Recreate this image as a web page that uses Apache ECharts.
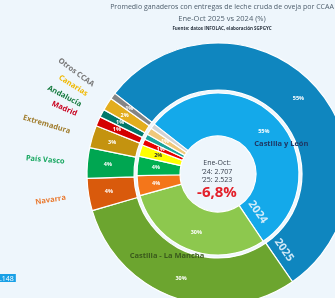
<!DOCTYPE html>
<html>
<head>
<meta charset="utf-8">
<script src="https://cdn.jsdelivr.net/npm/echarts@6/dist/echarts.min.js"></script>
<style>
  html, body { margin: 0; padding: 0; background: #eef6fc; }
  #main { width: 335px; height: 298px; }
</style>
</head>
<body>
<div id="main"></div>
<script>
  // datos (promedio de ganaderos por CCAA)
  var categories = ['Castilla y León', 'Castilla - La Mancha', 'Navarra', 'País Vasco', 'Extremadura', 'Madrid', 'Andalucía', 'Canarias', 'Otros CCAA'];
  var values2025 = [1383, 760, 100, 95, 70, 30, 25, 40, 20];
  var values2024 = [1490, 815, 108, 104, 62, 33, 30, 38, 27];

  var colors2025 = ['#0f86bf', '#6ca52f', '#d95a0c', '#00a651', '#c4930f', '#d40000', '#00786a', '#e3ad1d', '#858585'];
  var colors2024 = ['#14a9ea', '#8dc84e', '#f4761a', '#00b050', '#ffff00', '#e80000', '#1aa39b', '#f0c87a', '#d3d3d3'];
  var nameColors = ['#1f3864', '#3a5a1c', '#e97b32', '#1aa862', '#a07d2e', '#c8001e', '#157a3e', '#f0b800', '#777777'];

  var cx = 218, cy = 174;
  var startAngle = 142;
  var font = 'Open Sans';

  function sum(arr) {
    var s = 0;
    for (var i = 0; i < arr.length; i++) s += arr[i];
    return s;
  }
  var total2025 = sum(values2025);
  var total2024 = sum(values2024);

  function fmtThousands(n) {
    return String(n).replace(/\B(?=(\d{3})+(?!\d))/g, '.');
  }
  var change = (total2025 - total2024) / total2024 * 100;
  var changeText = change.toFixed(1).replace('.', ',') + '%';

  function pct(total) {
    return function (p) {
      return Math.round(p.value / total * 100) + '%';
    };
  }

  // angulo del limite Castilla y Leon / Castilla - La Mancha (desde arriba, horario)
  var theta = (90 - startAngle + 360 * values2025[0] / total2025) * Math.PI / 180;
  var dirX = Math.sin(theta), dirY = -Math.cos(theta);
  var perpX = -Math.cos(theta), perpY = -Math.sin(theta);
  var rot = -Math.atan2(dirY, dirX);
  function along(d, off) {
    return [cx + dirX * d + perpX * off, cy + dirY * d + perpY * off];
  }
  var p24 = along(54, 11);
  var p25 = along(100, 11);

  var myChart = echarts.init(document.getElementById('main'));

  myChart.setOption({
    backgroundColor: '#eef6fc',
    animation: false,
    graphic: [
      { type: 'text', x: 222, y: 7, style: { text: 'Promedio ganaderos con entregas de leche cruda de oveja por CCAA', font: '7px "' + font + '"', fill: '#50606e', align: 'center', verticalAlign: 'middle' } },
      { type: 'text', x: 222, y: 19, style: { text: 'Ene-Oct 2025 vs 2024 (%)', font: '7.5px "' + font + '"', fill: '#50606e', align: 'center', verticalAlign: 'middle' } },
      { type: 'text', x: 222, y: 28.5, style: { text: 'Fuente: datos INFOLAC, elaboración SGPGYC', font: 'bold 4.5px "' + font + '"', fill: '#2a3440', align: 'center', verticalAlign: 'middle' } },
      { type: 'text', x: 217, y: 163, style: { text: 'Ene-Oct:', font: '7px "' + font + '"', fill: '#38404e', align: 'center', verticalAlign: 'middle' } },
      { type: 'text', x: 217, y: 172, style: { text: '‘24: ' + fmtThousands(total2024), font: '7px "' + font + '"', fill: '#38404e', align: 'center', verticalAlign: 'middle' } },
      { type: 'text', x: 217, y: 180, style: { text: '‘25: ' + fmtThousands(total2025), font: '7px "' + font + '"', fill: '#38404e', align: 'center', verticalAlign: 'middle' } },
      { type: 'text', x: 217, y: 193, style: { text: changeText, font: 'bold 15px "' + font + '"', fill: '#e3202a', align: 'center', verticalAlign: 'middle' } },
      { type: 'text', x: p24[0], y: p24[1], rotation: rot, z: 10, style: { text: '2024', font: 'bold 11px "' + font + '"', fill: '#d3ecf9', align: 'center', verticalAlign: 'middle' } },
      { type: 'text', x: p25[0], y: p25[1], rotation: rot, z: 10, style: { text: '2025', font: 'bold 11px "' + font + '"', fill: '#cfe8f6', align: 'center', verticalAlign: 'middle' } },
      { type: 'text', x: 0, y: 274, style: { text: '.148', font: '7px "' + font + '"', fill: '#ffffff', backgroundColor: '#19a0e6', padding: [1, 2, 0, 0], verticalAlign: 'top' } }
    ],
    series: [
      {
        name: '2024',
        type: 'pie',
        center: [cx, cy],
        radius: [38, 81],
        startAngle: startAngle,
        clockwise: true,
        avoidLabelOverlap: false,
        itemStyle: { borderColor: '#ffffff', borderWidth: 1.2 },
        label: {
          position: 'inside',
          formatter: pct(total2024),
          color: '#ffffff',
          fontSize: 5.5,
          fontWeight: 'bold',
          fontFamily: font
        },
        labelLine: { show: false },
        data: categories.map(function (c, i) {
          var item = { name: c, value: values2024[i], itemStyle: { color: colors2024[i] } };
          if (i === 4) item.label = { color: '#333333' };
          return item;
        })
      },
      {
        name: '2025',
        type: 'pie',
        center: [cx, cy],
        radius: [84, 131],
        startAngle: startAngle,
        clockwise: true,
        avoidLabelOverlap: false,
        itemStyle: { borderColor: '#ffffff', borderWidth: 1.2 },
        label: {
          position: 'inside',
          formatter: pct(total2025),
          color: '#ffffff',
          fontSize: 5.5,
          fontWeight: 'bold',
          fontFamily: font
        },
        labelLine: { show: false },
        data: categories.map(function (c, i) {
          return { name: c, value: values2025[i], itemStyle: { color: colors2025[i] } };
        })
      },
      {
        // capa solo para los nombres de las CCAA
        name: 'nombres',
        type: 'pie',
        silent: true,
        center: [cx, cy],
        radius: [84, 131],
        startAngle: startAngle,
        clockwise: true,
        avoidLabelOverlap: false,
        itemStyle: { color: 'rgba(0,0,0,0)', borderWidth: 0 },
        label: {
          position: 'outside',
          rotate: true,
          formatter: '{b}',
          fontSize: 7.5,
          fontWeight: 'bold',
          fontFamily: font
        },
        labelLine: { show: false, length: 18, length2: 0 },
        labelLayout: function (params) {
          if (params.dataIndex === 0) return { dx: -17, dy: 46 };
          if (params.dataIndex === 1) return { dx: -14, dy: -22 };
          return {};
        },
        data: categories.map(function (c, i) {
          var item = { name: c, value: values2025[i], label: { color: nameColors[i] } };
          if (i < 2) item.label = { color: nameColors[i], position: 'inside', rotate: 0, fontSize: 7.5 };
          return item;
        })
      }
    ]
  });
</script>
</body>
</html>
